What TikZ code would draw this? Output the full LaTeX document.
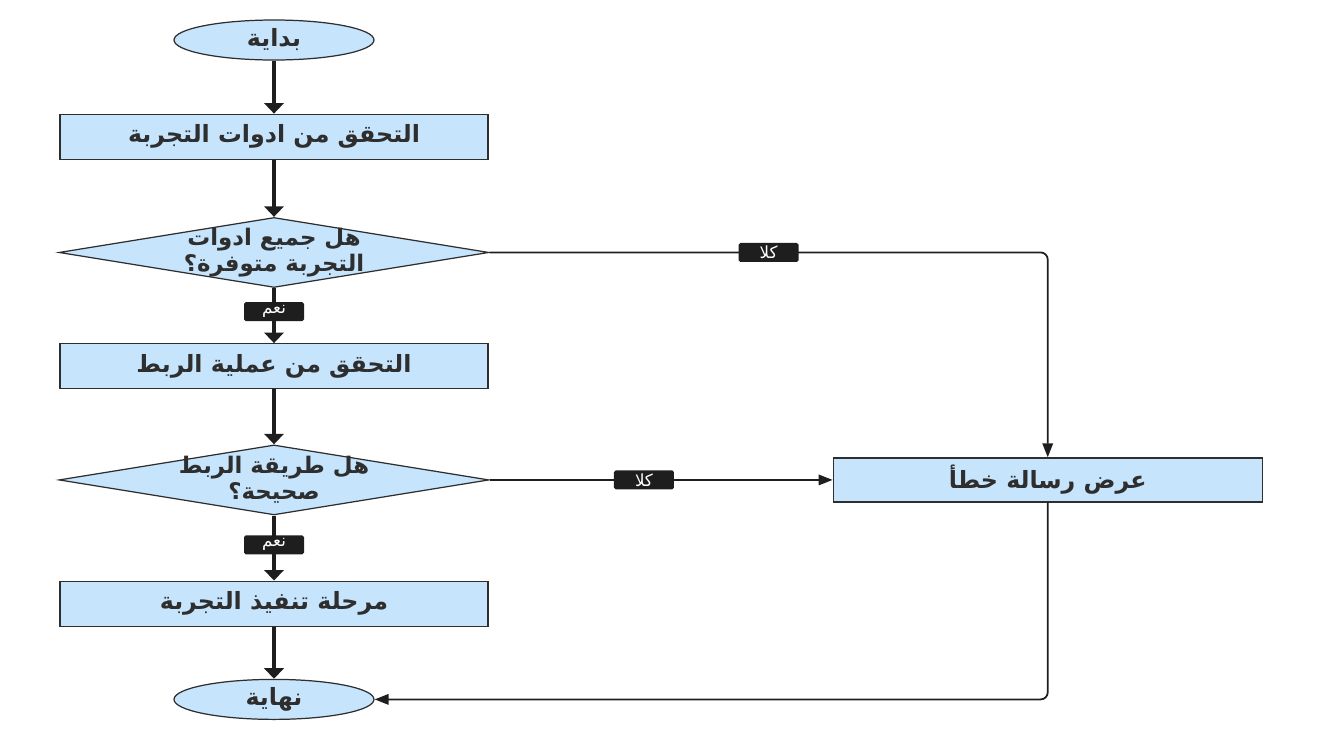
\documentclass[tikz,border=0pt]{standalone}
\usepackage{fontspec}
\newfontfamily\arabicfont[Script=Arabic]{DejaVu Sans}
\TeXXeTstate=1
\usetikzlibrary{positioning,arrows.meta,shapes.geometric}
\definecolor{boxblue}{HTML}{C6E4FB}
\definecolor{edgegray}{HTML}{2E2E2E}
\definecolor{tagblack}{HTML}{1E1E1E}

\begin{document}
\begin{tikzpicture}[node distance=1.1cm,
   every node/.style={text=edgegray},
   term/.style={ellipse,draw=edgegray,line width=0.7pt,fill=boxblue,
     minimum width=4cm,minimum height=0.8cm,inner sep=0pt,
     font=\arabicfont\bfseries\fontsize{13.5}{15}\selectfont},
   proc/.style={rectangle,draw=edgegray,line width=0.7pt,fill=boxblue,
     minimum width=8.56cm,minimum height=0.9cm,
     font=\arabicfont\bfseries\fontsize{13.5}{15}\selectfont},
   dec/.style={diamond,draw=edgegray,line width=0.7pt,fill=boxblue,
     aspect=6,minimum width=8.6cm,minimum height=1.4cm,inner sep=0pt},
   dectext/.style={align=center,text=edgegray,
     font=\arabicfont\bfseries\fontsize{13}{14.5}\selectfont},
   tag/.style={fill=tagblack,text=white,rounded corners=1pt,
     minimum width=1.2cm,minimum height=0.38cm,inner sep=1pt,
     font=\arabicfont\fontsize{9.5}{10}\selectfont},
   main/.style={draw=tagblack,line width=2pt,-{Triangle[width=11pt,length=6pt]}},
   side/.style={draw=tagblack,line width=1pt,rounded corners=4pt,
     -{Triangle[width=6pt,length=8pt]}}]
  \useasboundingbox (0,0) rectangle (26.44,-14.68);

  % main column
  \node[term] (begin) at (5.48,-0.8) {\beginR بداية\endR};
  \node[proc] (tools) [below=1.06cm of begin] {\beginR التحقق من ادوات التجربة\endR};
  \node[dec] (toolsok) [below=1.14cm of tools,
     label={[dectext]center:\beginR هل جميع ادوات\endR\\\beginR التجربة متوفرة؟\endR}] {};
  \node[proc] (link) [below=1.1cm of toolsok] {\beginR التحقق من عملية الربط\endR};
  \node[dec] (linkok) [below=1.1cm of link,
     label={[dectext]center:\beginR هل طريقة الربط\endR\\\beginR صحيحة؟\endR}] {};
  \node[proc] (run) [below=1.3cm of linkok] {\beginR مرحلة تنفيذ التجربة\endR};
  \node[term] (finish) [below=1.04cm of run] {\beginR نهاية\endR};

  % error branch
  \node[proc,minimum width=8.58cm,minimum height=0.88cm] (error)
     [right=6.86cm of linkok] {\beginR عرض رسالة خطأ\endR};

  \draw[main] (begin) -- (tools);
  \draw[main] (tools) -- (toolsok);
  \draw[main] (toolsok) -- node[tag,pos=0.43] {\beginR نعم\endR} (link);
  \draw[main] (link) -- (linkok);
  \draw[main] (linkok) -- node[tag,pos=0.45] {\beginR نعم\endR} (run);
  \draw[main] (run) -- (finish);

  \draw[side] (toolsok.east) -| node[tag,pos=0.25] {\beginR كلا\endR} (error.north);
  \draw[side] (linkok.east) -- node[tag,pos=0.45] {\beginR كلا\endR} (error.west);
  \draw[side] (error.south) |- (finish.east);
\end{tikzpicture}
\end{document}
